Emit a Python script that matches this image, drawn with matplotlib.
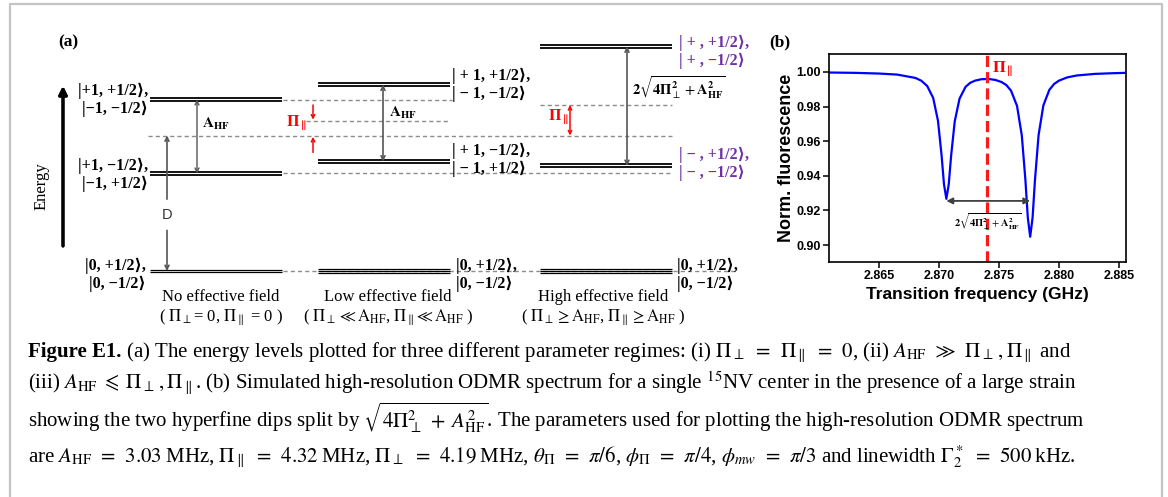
import numpy as np
import matplotlib.pyplot as plt
from matplotlib.lines import Line2D

W, H = 1168, 497
plt.rcParams['mathtext.fontset'] = 'stix'
SERIF = ['Liberation Serif', 'DejaVu Serif']
SANS = ['Liberation Sans', 'DejaVu Sans']
PURPLE = '#7030A0'
GRAY = '#555555'
DASH = '#8c8c8c'

# ---- panel (a): level energies in units where D = 10, ground = 0
regime_names = ['No effective field', 'Low effective field', 'High effective field']
regime_conds = [r'( $\Pi_\perp$= 0, $\Pi_\parallel$ = 0 )',
                r'( $\Pi_\perp \ll \mathrm{A_{HF}}$, $\Pi_\parallel\!\ll \mathrm{A_{HF}}$ )',
                r'( $\Pi_\perp \geq \mathrm{A_{HF}}$, $\Pi_\parallel \geq \mathrm{A_{HF}}$ )']
D = 10.0
ground_E = [0.0, 0.0, 0.0]
upper_E = [12.65, 13.76, 16.57]
lower_E = [7.2, 8.08, 7.75]
center_E = [10.0, 11.07, 12.25]
upper_labels = ['|+1, +1/2⟩,\n|−1, −1/2⟩', '| + 1, +1/2⟩,\n| − 1, −1/2⟩', '| + , +1/2⟩,\n| + , −1/2⟩']
lower_labels = ['|+1, −1/2⟩,\n|−1, +1/2⟩', '| + 1, −1/2⟩,\n| − 1, +1/2⟩', '| − , +1/2⟩,\n| − , −1/2⟩']
ground_label = '|0, +1/2⟩,\n|0, −1/2⟩'

# ---- panel (b): simulated ODMR spectrum
freq = [2.8608, 2.8630, 2.8650, 2.8665, 2.8680, 2.8685, 2.8690, 2.8695, 2.8699,
        2.8702, 2.8704, 2.8706, 2.8708, 2.8710, 2.8713, 2.8717, 2.8722, 2.8726,
        2.8730, 2.8735, 2.8741, 2.8747, 2.8752, 2.8756, 2.8760, 2.8765, 2.8769,
        2.8772, 2.8774, 2.8776, 2.8778, 2.8780, 2.8783, 2.8787, 2.8792, 2.8796,
        2.8800, 2.8807, 2.8815, 2.8830, 2.8845, 2.8856]
fluor = [0.9997, 0.9995, 0.9991, 0.9985, 0.9966, 0.9950, 0.9919, 0.9850, 0.9718,
         0.9519, 0.9352, 0.9267, 0.9352, 0.9518, 0.9715, 0.9846, 0.9914, 0.9938,
         0.9950, 0.9958, 0.9960, 0.9954, 0.9942, 0.9925, 0.9892, 0.9804, 0.9633,
         0.9376, 0.9159, 0.9048, 0.9159, 0.9377, 0.9635, 0.9807, 0.9897, 0.9931,
         0.9950, 0.9969, 0.9980, 0.9989, 0.9993, 0.9995]
dip_pos = [2.8706, 2.8776]
pi_par_freq = 2.8740

fig = plt.figure(figsize=(W / 100, H / 100), dpi=100)


def fx(x):
    return x / W


def fy(y):
    return 1 - y / H


# grey frame of the figure box
fig.add_artist(Line2D([fx(9.5), fx(9.5), fx(1161.5), fx(1161.5)], [0, fy(4), fy(4), 0],
                      color='#c4c4c4', lw=1.6))

# ---------------- panel (a)
ax = fig.add_axes([0, 0, 1, 1])
px_per_E = 13.55
y0 = 271
ax.set_xlim(0, W)
ax.set_ylim((y0 - H) / px_per_E, y0 / px_per_E)
ax.axis('off')

x_lev = [(150, 282), (318, 450), (540, 672)]
dash = dict(color=DASH, lw=1, ls=(0, (3, 2.2)))
ax.hlines(D, 148, 672, **dash)
ax.hlines(upper_E[0], 283, 452, **dash)
ax.hlines(lower_E[0], 283, 672, **dash)
ax.hlines(ground_E[0], 283, 735, **dash)
ax.hlines(center_E[1], 306, 450, **dash)
ax.hlines(center_E[2], 540, 672, **dash)

for i, (x0, x1) in enumerate(x_lev):
    for E in (upper_E[i], lower_E[i]):
        ax.hlines([E - 0.11, E + 0.11], x0, x1, color='black', lw=1.3, zorder=3)
    offs = [-0.11, 0.11] if i == 0 else [-0.17, 0, 0.17]
    ax.hlines([ground_E[i] + o for o in offs], x0, x1, color='black', lw=0.9, zorder=3)


def arrow(x, e0, e1, style, color, lw=1.0, ms=7):
    ax.annotate('', xy=(x, e1), xytext=(x, e0),
                arrowprops=dict(arrowstyle=style, color=color, lw=lw,
                                shrinkA=0, shrinkB=0, mutation_scale=ms))


arrow(197, upper_E[0], lower_E[0], '<->', GRAY)
arrow(167, 5.3, D, '->', GRAY, lw=1.2)
arrow(167, 3.0, ground_E[0], '->', GRAY, lw=1.2)
arrow(383, upper_E[1], lower_E[1], '<->', GRAY, lw=1.2)
arrow(313, 12.25, center_E[1] + 0.1, '->', 'red', lw=1.1, ms=6)
arrow(313, 8.75, D - 0.1, '->', 'red', lw=1.1, ms=6)
arrow(627, upper_E[2], lower_E[2], '<->', GRAY, lw=1.2)
arrow(570, center_E[2], D, '<->', 'red', lw=1.1, ms=6)

# energy axis
fig.add_artist(plt.annotate('', xy=(fx(63), fy(86)), xytext=(fx(63), fy(246)),
                            xycoords='figure fraction',
                            arrowprops=dict(arrowstyle='-|>', color='black', lw=2.2,
                                            mutation_scale=12, shrinkA=0, shrinkB=0)))
fig.text(fx(42), fy(186), 'Energy', family=SERIF, fontsize=12, rotation=90,
         ha='center', va='center')
fig.text(fx(68), fy(42), '(a)', family=SERIF, fontsize=12.5, weight='bold',
         ha='center', va='center')
fig.text(fx(167), fy(215), 'D', family=SANS, fontsize=10.5, color='#333333',
         ha='center', va='center')
fig.text(fx(202), fy(124), r'$\mathbf{A_{HF}}$', fontsize=11, ha='left', va='center')
fig.text(fx(389), fy(113), r'$\mathbf{A_{HF}}$', fontsize=11, ha='left', va='center')
fig.text(fx(286), fy(123), r'$\mathbf{\Pi_\parallel}$', fontsize=11.5, color='red',
         ha='left', va='center')
fig.text(fx(548), fy(117), r'$\mathbf{\Pi_\parallel}$', fontsize=11.5, color='red',
         ha='left', va='center')
split_lab = (r'$\mathbf{2}\sqrt{\mathbf{4\Pi}_{\perp}^{\mathbf{2}} + '
             r'\mathbf{A}_{\mathbf{HF}}^{\mathbf{2}}}$')
fig.text(fx(632), fy(88), split_lab, fontsize=10.5, ha='left', va='center')

lab = dict(family=SERIF, fontsize=11.5, weight='bold', linespacing=1.1, va='center')
fig.text(fx(148), fy(100), upper_labels[0], ha='right', **lab)
fig.text(fx(148), fy(175), lower_labels[0], ha='right', **lab)
fig.text(fx(146), fy(275), ground_label, ha='right', **lab)
fig.text(fx(452), fy(85), upper_labels[1], ha='left', **lab)
fig.text(fx(452), fy(160), lower_labels[1], ha='left', **lab)
fig.text(fx(456), fy(275), ground_label, ha='left', **lab)
fig.text(fx(679), fy(52), upper_labels[2], ha='left', color=PURPLE, **lab)
fig.text(fx(679), fy(164), lower_labels[2], ha='left', color=PURPLE, **lab)
fig.text(fx(677), fy(275), ground_label, ha='left', **lab)

for xc, name, cond in zip([221, 388, 603], regime_names, regime_conds):
    fig.text(fx(xc), fy(297), name, family=SERIF, fontsize=12, ha='center', va='center')
    fig.text(fx(xc), fy(318), cond, family=SERIF, fontsize=12, ha='center', va='center')

# ---------------- panel (b)
axb = fig.add_axes([fx(829), fy(262), (1126 - 829) / W, (262 - 54) / H])
axb.plot(freq, fluor, color='#0000ff', lw=1.6)
axb.axvline(pi_par_freq, color='#ff1a1a', lw=2.3, ls=(0, (3.5, 1.6)))
axb.annotate('', xy=(dip_pos[0], 0.9255), xytext=(dip_pos[1], 0.9255),
             arrowprops=dict(arrowstyle='<|-|>', color='#404040', lw=1.3,
                             mutation_scale=9, shrinkA=0, shrinkB=0))
axb.text(2.8741, 0.9135, split_lab, fontsize=7.5, ha='center', va='center')
axb.text(pi_par_freq + 0.0004, 1.0015, r'$\mathbf{\Pi_\parallel}$', fontsize=12,
         color='red', ha='left', va='center')
axb.set_xlim(2.8608, 2.8856)
axb.set_ylim(0.8902, 1.0104)
axb.set_xticks([2.865, 2.870, 2.875, 2.880, 2.885])
axb.set_xticklabels(['2.865', '2.870', '2.875', '2.880', '2.885'])
axb.set_yticks([0.90, 0.92, 0.94, 0.96, 0.98, 1.00])
axb.set_yticklabels(['0.90', '0.92', '0.94', '0.96', '0.98', '1.00'])
for t in axb.get_xticklabels() + axb.get_yticklabels():
    t.set_family(SANS)
    t.set_fontweight('bold')
    t.set_fontsize(9)
axb.tick_params(direction='out', length=4, width=1.1, pad=2)
for s in axb.spines.values():
    s.set_linewidth(1.2)
axb.set_xlabel('Transition frequency (GHz)', family=SANS, fontsize=12.5,
               weight='bold', labelpad=3)
axb.set_ylabel('Norm. fluorescence', family=SANS, fontsize=13, weight='bold',
               labelpad=1)
fig.text(fx(780), fy(42), '(b)', family=SERIF, fontsize=12.5, weight='bold',
         ha='center', va='center')

# ---------------- caption
cap = dict(family=SERIF, fontsize=15, va='baseline')
cap_lines = [
    r' (a) The energy levels plotted for three different parameter regimes: (i) '
    r'$\Pi_\perp \;\,=\;\, \Pi_\parallel \;\,=\;\, 0$, (ii) '
    r'$A_{\rm HF} \;\,\gg\;\, \Pi_\perp\,, \Pi_\parallel$ and',
    r'(iii) $A_{\rm HF} \;\leqslant\; \Pi_\perp\,, \Pi_\parallel$. (b) Simulated high-resolution '
    r'ODMR spectrum for a single $^{15}$NV center in the presence of a large strain',
    r'showing the two hyperfine dips split by $\sqrt{4\Pi_\perp^2 \;+\; A_{\rm HF}^2}$. '
    r'The parameters used for plotting the high-resolution ODMR spectrum',
    r'are $A_{\rm HF} \;\,=\;\, 3.03\;$MHz, $\Pi_\parallel \;\,=\;\, 4.32\;$MHz, '
    r'$\Pi_\perp \;\,=\;\, 4.19\;$MHz, $\theta_\Pi \;\,=\;\, \pi/6$, '
    r'$\phi_\Pi \;\,=\;\, \pi/4$, $\phi_{mw} \;\,=\;\, \pi/3$ and linewidth '
    r'$\Gamma_2^* \;\,=\;\, 500\;$kHz.',
]
base_y = [357, 389, 428, 463]
t0 = fig.text(fx(28), fy(base_y[0]), 'Figure E1.', weight='bold', **cap)
r = fig.canvas.get_renderer()
bb = t0.get_window_extent(r)
fig.text(bb.x1 / W, fy(base_y[0]), cap_lines[0], **cap)
for line, yb in zip(cap_lines[1:], base_y[1:]):
    fig.text(fx(28), fy(yb), line, **cap)

fig.savefig('out.png', dpi=100)
